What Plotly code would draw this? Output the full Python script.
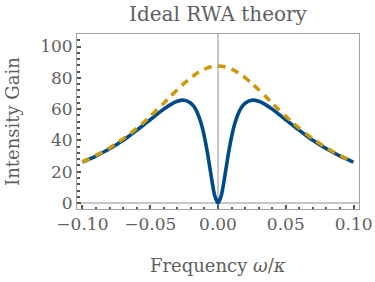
import plotly.graph_objects as go

x_vals = [-0.1, -0.095, -0.09, -0.085, -0.08, -0.075, -0.07, -0.065, -0.06, -0.055,
          -0.05, -0.045, -0.04, -0.035, -0.03, -0.025, -0.02, -0.0175, -0.015, -0.0125,
          -0.01, -0.0075, -0.005, -0.0025, 0.0, 0.0025, 0.005, 0.0075, 0.01, 0.0125,
          0.015, 0.0175, 0.02, 0.025, 0.03, 0.035, 0.04, 0.045, 0.05, 0.055,
          0.06, 0.065, 0.07, 0.075, 0.08, 0.085, 0.09, 0.095, 0.1]

gain_full = [26.1, 28.0, 30.0, 32.3, 34.7, 37.3, 40.1, 43.2, 46.4, 49.8,
             53.2, 56.7, 60.0, 62.9, 65.0, 65.7, 63.8, 61.3, 57.2, 51.1,
             42.3, 30.7, 17.1, 5.0, 0.0, 5.0, 17.1, 30.7, 42.3, 51.1,
             57.2, 61.3, 63.8, 65.7, 65.0, 62.9, 60.0, 56.7, 53.2, 49.8,
             46.4, 43.2, 40.1, 37.3, 34.7, 32.3, 30.0, 28.0, 26.1]

gain_ideal = [26.4, 28.3, 30.4, 32.7, 35.2, 38.0, 41.0, 44.2, 47.7, 51.4,
              55.4, 59.6, 63.8, 68.2, 72.4, 76.4, 80.1, 81.7, 83.2, 84.4,
              85.5, 86.4, 87.0, 87.4, 87.5, 87.4, 87.0, 86.4, 85.5, 84.4,
              83.2, 81.7, 80.1, 76.4, 72.4, 68.2, 63.8, 59.6, 55.4, 51.4,
              47.7, 44.2, 41.0, 38.0, 35.2, 32.7, 30.4, 28.3, 26.4]

x_ticks = [-0.10, -0.05, 0.0, 0.05, 0.10]
x_tick_labels = ["\u22120.10", "\u22120.05", "0.00", "0.05", "0.10"]
y_ticks = [0, 20, 40, 60, 80, 100]
y_tick_labels = ["0", "20", "40", "60", "80", "100"]

FONT = "DejaVu Serif"
GRAY = "#5f5f5f"
TICKC = "#555555"

fig = go.Figure()
fig.add_trace(go.Scatter(x=x_vals, y=gain_full, mode="lines",
                         line=dict(color="#004a8c", width=3.6, shape="spline", smoothing=0.6),
                         showlegend=False))
fig.add_trace(go.Scatter(x=x_vals, y=gain_ideal, mode="lines",
                         line=dict(color="#cc9a0e", width=3.6, dash="8px,6px", shape="spline", smoothing=0.6),
                         showlegend=False))

fig.update_layout(
    width=375, height=282,
    margin=dict(l=77, r=16, t=34, b=73, autoexpand=False),
    paper_bgcolor="white", plot_bgcolor="white",
    font=dict(family=FONT, color=GRAY, size=17),
    title=dict(text="Ideal RWA theory", x=0.5, xref="paper", xanchor="center", y=0.95, yanchor="middle",
               font=dict(family=FONT, size=20, color=GRAY)),
    xaxis=dict(range=[-0.104, 0.104], tickvals=x_ticks, ticktext=x_tick_labels,
               automargin=False,
               showgrid=False, zeroline=True, zerolinecolor="#c8c8c8", zerolinewidth=1.6,
               showline=True, linecolor="#a0a0a0", linewidth=1, mirror=True,
               ticks="inside", ticklen=4, tickwidth=2, tickcolor=TICKC,
               minor=dict(dtick=0.01, tick0=0, ticks="inside", ticklen=2.5, tickwidth=2, tickcolor=TICKC),
               tickfont=dict(family=FONT, size=17, color=GRAY)),
    yaxis=dict(range=[-3.8, 108], tickvals=y_ticks, ticktext=y_tick_labels,
               automargin=False,
               showgrid=False, zeroline=True, zerolinecolor="#c8c8c8", zerolinewidth=1.6,
               showline=True, linecolor="#a0a0a0", linewidth=1, mirror=True,
               ticks="inside", ticklen=4, tickwidth=2, tickcolor=TICKC,
               minor=dict(dtick=4, tick0=0, ticks="inside", ticklen=2.5, tickwidth=2, tickcolor=TICKC),
               tickfont=dict(family=FONT, size=17, color=GRAY)),
    annotations=[
        dict(text="Frequency <i>\u03c9</i>/<i>\u03ba</i>", xref="paper", yref="paper",
             x=0.5, y=-0.32, xanchor="center", yanchor="middle", showarrow=False,
             font=dict(family=FONT, size=18, color=GRAY)),
        dict(text="Intensity Gain", xref="paper", yref="paper",
             x=-0.227, y=0.503, xanchor="center", yanchor="middle", showarrow=False,
             textangle=-90, font=dict(family=FONT, size=18, color=GRAY)),
    ],
)

fig.write_html("out.html")
